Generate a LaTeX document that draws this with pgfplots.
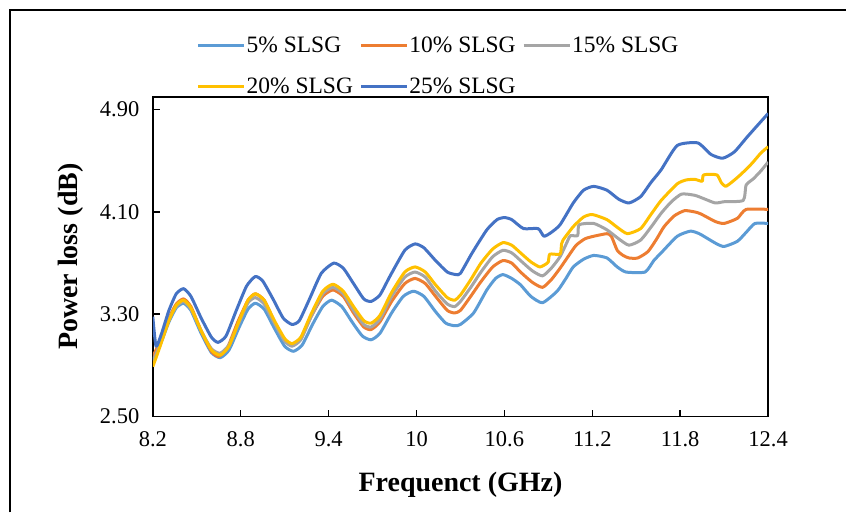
\documentclass[border=0pt]{standalone}
\usepackage{pgfplots}
\pgfplotsset{compat=1.18}
\usepackage{fontspec}
\setmainfont{Liberation Serif}
\definecolor{c5}{HTML}{5B9BD5}
\definecolor{c10}{HTML}{ED7D31}
\definecolor{c15}{HTML}{A5A5A5}
\definecolor{c20}{HTML}{FFC000}
\definecolor{c25}{HTML}{4472C4}
\pgfplotsset{ser/.style={color=#1, line width=3pt, line join=round, smooth, tension=0.35}}
\begin{document}
\begin{tikzpicture}
\path (0pt,0pt) rectangle (847pt,513pt);
\draw[line width=2pt] (10pt,0pt) -- (10pt,503pt) -- (847pt,503pt);
\begin{axis}[
  at={(153pt,96pt)}, anchor=south west,
  width=616pt, height=320pt, scale only axis,
  xmin=8.2, xmax=12.4, ymin=2.5, ymax=5.0,
  xtick={8.2,8.8,9.4,10,10.6,11.2,11.8,12.4},
  xticklabels={8.2,8.8,9.4,10,10.6,11.2,11.8,12.4},
  ytick={2.5,3.3,4.1,4.9},
  yticklabels={2.50,3.30,4.10,4.90},
  tick align=inside, tick pos=left, major tick length=7pt,
  axis line style={line width=1.8pt, black},
  every tick/.style={line width=1.5pt, black},
  ticklabel style={font=\fontsize{22.5}{26}\selectfont},
  xticklabel style={yshift=-12pt},
  yticklabel style={xshift=-10pt},
  xlabel={Frequenct (GHz)},
  ylabel={Power loss (dB)},
  xlabel style={font=\fontsize{28}{33}\selectfont\bfseries, at={(axis description cs:0.5,-0.2125)}, anchor=center},
  ylabel style={font=\fontsize{28}{33}\selectfont\bfseries, at={(axis description cs:-0.134,0.5)}, anchor=center},
  legend columns=3,
  legend cell align=left,
  legend style={draw=none, fill=none, inner sep=0pt, outer sep=0pt,
    at={(axis description cs:0.0714,1.192)}, anchor=north west,
    font=\fontsize{23.5}{28}\selectfont, row sep=22pt,
    nodes={inner sep=1pt},
    /tikz/every even column/.append style={column sep=5.5pt}},
  legend image code/.code={\draw[#1, line width=3pt] (0pt,0pt) -- (46pt,0pt);},
]
\addplot[ser=c5] coordinates {(8.20,2.94) (8.25,3.06) (8.31,3.24) (8.36,3.35) (8.41,3.386) (8.46,3.33) (8.53,3.15) (8.60,3.00) (8.66,2.96) (8.72,3.02) (8.79,3.20) (8.85,3.34) (8.90,3.386) (8.96,3.34) (9.03,3.19) (9.10,3.05) (9.16,3.01) (9.22,3.06) (9.29,3.22) (9.36,3.36) (9.42,3.41) (9.49,3.36) (9.56,3.24) (9.63,3.13) (9.69,3.10) (9.75,3.15) (9.83,3.31) (9.91,3.44) (9.98,3.48) (10.05,3.44) (10.13,3.32) (10.20,3.23) (10.26,3.21) (10.30,3.22) (10.39,3.31) (10.48,3.49) (10.54,3.58) (10.59,3.61) (10.65,3.58) (10.71,3.53) (10.78,3.44) (10.86,3.39) (10.96,3.48) (11.02,3.58) (11.07,3.67) (11.14,3.73) (11.21,3.76) (11.30,3.74) (11.37,3.67) (11.43,3.63) (11.56,3.63) (11.62,3.72) (11.67,3.78) (11.78,3.91) (11.87,3.95) (11.93,3.93) (11.99,3.89) (12.05,3.85) (12.10,3.83) (12.19,3.87) (12.25,3.94) (12.31,4.01) (12.40,4.01)};
\addlegendentry{5\% SLSG}
\addplot[ser=c10] coordinates {(8.20,2.97) (8.25,3.09) (8.31,3.27) (8.36,3.38) (8.41,3.42) (8.46,3.36) (8.53,3.17) (8.60,3.01) (8.65,2.97) (8.71,3.04) (8.78,3.24) (8.85,3.41) (8.90,3.46) (8.96,3.41) (9.03,3.24) (9.10,3.10) (9.15,3.06) (9.21,3.11) (9.28,3.28) (9.36,3.44) (9.43,3.49) (9.50,3.44) (9.57,3.31) (9.64,3.20) (9.69,3.18) (9.75,3.24) (9.83,3.40) (9.92,3.54) (9.99,3.58) (10.06,3.54) (10.13,3.44) (10.21,3.33) (10.26,3.31) (10.30,3.33) (10.37,3.44) (10.44,3.555) (10.52,3.67) (10.59,3.72) (10.65,3.70) (10.71,3.63) (10.79,3.55) (10.86,3.51) (10.92,3.57) (10.98,3.66) (11.04,3.76) (11.09,3.84) (11.15,3.89) (11.21,3.91) (11.30,3.93) (11.33,3.91) (11.37,3.80) (11.41,3.76) (11.45,3.74) (11.51,3.74) (11.58,3.79) (11.64,3.89) (11.69,3.985) (11.76,4.07) (11.83,4.11) (11.90,4.10) (11.94,4.085) (12.04,4.025) (12.10,4.01) (12.19,4.05) (12.25,4.12) (12.40,4.12)};
\addlegendentry{10\% SLSG}
\addplot[ser=c15] coordinates {(8.20,2.93) (8.25,3.07) (8.31,3.26) (8.36,3.36) (8.41,3.40) (8.46,3.34) (8.53,3.17) (8.60,3.03) (8.66,2.995) (8.72,3.06) (8.79,3.24) (8.85,3.39) (8.90,3.43) (8.96,3.38) (9.03,3.23) (9.10,3.09) (9.15,3.05) (9.21,3.10) (9.28,3.28) (9.36,3.46) (9.43,3.51) (9.50,3.46) (9.57,3.33) (9.64,3.22) (9.69,3.20) (9.75,3.26) (9.83,3.44) (9.92,3.59) (9.99,3.63) (10.06,3.59) (10.13,3.48) (10.21,3.38) (10.26,3.36) (10.30,3.40) (10.37,3.51) (10.44,3.63) (10.52,3.75) (10.59,3.80) (10.65,3.78) (10.71,3.72) (10.79,3.64) (10.86,3.60) (10.92,3.66) (10.98,3.75) (11.03,3.87) (11.05,3.915) (11.10,3.915) (11.11,4.00) (11.21,4.01) (11.30,3.96) (11.38,3.89) (11.45,3.84) (11.53,3.88) (11.60,3.98) (11.67,4.09) (11.74,4.18) (11.81,4.24) (11.90,4.23) (11.97,4.20) (12.04,4.17) (12.10,4.18) (12.23,4.19) (12.25,4.31) (12.30,4.36) (12.35,4.42) (12.40,4.49)};
\addlegendentry{15\% SLSG}
\addplot[ser=c20] coordinates {(8.20,2.89) (8.25,3.05) (8.31,3.25) (8.36,3.37) (8.41,3.41) (8.46,3.35) (8.53,3.17) (8.60,3.02) (8.66,2.98) (8.72,3.05) (8.79,3.25) (8.85,3.41) (8.90,3.46) (8.96,3.41) (9.03,3.25) (9.10,3.11) (9.15,3.07) (9.21,3.12) (9.28,3.30) (9.36,3.48) (9.43,3.535) (9.50,3.48) (9.57,3.36) (9.64,3.25) (9.69,3.23) (9.75,3.29) (9.83,3.47) (9.92,3.63) (9.99,3.67) (10.06,3.63) (10.13,3.53) (10.21,3.43) (10.26,3.41) (10.30,3.45) (10.37,3.57) (10.44,3.70) (10.52,3.81) (10.59,3.86) (10.65,3.84) (10.71,3.78) (10.78,3.71) (10.84,3.67) (10.88,3.69) (10.90,3.71) (10.91,3.77) (10.98,3.77) (10.99,3.85) (11.00,3.88) (11.07,3.985) (11.14,4.06) (11.20,4.08) (11.30,4.04) (11.37,3.98) (11.44,3.93) (11.53,3.97) (11.60,4.08) (11.67,4.19) (11.78,4.32) (11.84,4.35) (11.90,4.355) (11.95,4.34) (11.96,4.39) (12.05,4.39) (12.08,4.33) (12.11,4.30) (12.16,4.34) (12.22,4.40) (12.29,4.48) (12.35,4.56) (12.40,4.61)};
\addlegendentry{20\% SLSG}
\addplot[ser=c25] coordinates {(8.200,3.28) (8.222,3.05) (8.26,3.15) (8.31,3.33) (8.36,3.46) (8.41,3.50) (8.46,3.44) (8.53,3.27) (8.60,3.12) (8.645,3.08) (8.70,3.13) (8.77,3.33) (8.84,3.52) (8.90,3.595) (8.95,3.56) (9.02,3.42) (9.09,3.27) (9.15,3.22) (9.20,3.25) (9.27,3.42) (9.35,3.62) (9.435,3.70) (9.50,3.66) (9.57,3.54) (9.64,3.42) (9.69,3.40) (9.75,3.45) (9.82,3.60) (9.92,3.80) (9.99,3.85) (10.05,3.82) (10.13,3.72) (10.21,3.63) (10.27,3.61) (10.30,3.62) (10.38,3.78) (10.48,3.96) (10.55,4.04) (10.60,4.056) (10.65,4.04) (10.73,3.97) (10.83,3.97) (10.87,3.91) (10.92,3.94) (10.98,4.00) (11.07,4.17) (11.14,4.27) (11.21,4.30) (11.30,4.27) (11.38,4.20) (11.45,4.17) (11.53,4.22) (11.60,4.33) (11.67,4.43) (11.78,4.62) (11.92,4.64) (12.01,4.55) (12.09,4.52) (12.17,4.57) (12.26,4.69) (12.40,4.87)};
\addlegendentry{25\% SLSG}
\end{axis}
\end{tikzpicture}
\end{document}
